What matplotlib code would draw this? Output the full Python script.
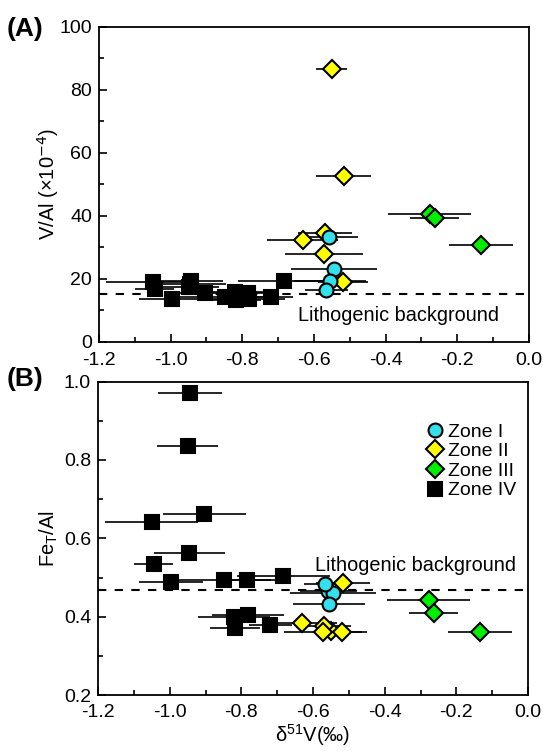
import matplotlib.pyplot as plt
from matplotlib.ticker import MultipleLocator

plt.rcParams['font.family'] = ['Liberation Sans', 'DejaVu Sans']
plt.rcParams['axes.unicode_minus'] = False

# Zone I (cyan circles)
z1_d51v = [-0.557, -0.543, -0.555, -0.566]
z1_err = [0.08, 0.12, 0.10, 0.06]
z1_val = [33.3, 23.0, 19.3, 16.3]
z1_fe = [0.465, 0.461, 0.432, 0.483]

# Zone II (yellow diamonds)
z2_d51v = [-0.550, -0.517, -0.569, -0.632, -0.572, -0.518]
z2_err = [0.043, 0.076, 0.076, 0.10, 0.11, 0.07]
z2_val = [86.5, 52.7, 34.6, 32.3, 27.7, 18.8]
z2_fe = [0.365, 0.487, 0.376, 0.383, 0.360, 0.361]

# Zone III (green diamonds)
z3_d51v = [-0.277, -0.263, -0.133]
z3_err = [0.116, 0.068, 0.089]
z3_val = [40.4, 39.4, 30.6]
z3_fe = [0.444, 0.410, 0.360]

# Zone IV (black squares)
z4_d51v = [-1.050, -1.045, -0.997, -0.943, -0.950, -0.945, -0.903,
           -0.848, -0.820, -0.818, -0.785, -0.782, -0.719, -0.683]
z4_err = [0.13, 0.055, 0.09, 0.09, 0.084, 0.10, 0.115,
          0.13, 0.10, 0.07, 0.08, 0.10, 0.06, 0.13]
z4_val = [19.0, 16.6, 13.5, 19.4, 17.5, 18.2, 15.4,
          14.3, 15.9, 13.2, 15.4, 13.5, 14.3, 19.3]
z4_fe = [0.641, 0.535, 0.490, 0.971, 0.836, 0.562, 0.661,
         0.494, 0.400, 0.372, 0.494, 0.405, 0.380, 0.505]

bg_val = 15.2
bg_fe = 0.468

zones = [
    ('Zone I', z1_d51v, z1_err, z1_val, z1_fe, 'o', '#33E0EC', 10),
    ('Zone II', z2_d51v, z2_err, z2_val, z2_fe, 'D', '#FFFF00', 9),
    ('Zone III', z3_d51v, z3_err, z3_val, z3_fe, 'D', '#00EE00', 9),
    ('Zone IV', z4_d51v, z4_err, z4_val, z4_fe, 's', 'black', 10),
]

fig = plt.figure(figsize=(5.43, 7.51), dpi=100)
axA = fig.add_axes([0.1823, 0.545, 0.7919, 0.4194])
axB = fig.add_axes([0.1805, 0.0743, 0.7919, 0.4176])

for ax, idx in ((axA, 3), (axB, 4)):
    # error bars first, markers on top
    for z in reversed(zones):
        ax.errorbar(z[1], z[idx], xerr=z[2], fmt='none', ecolor='black',
                    elinewidth=1.2, capsize=0, zorder=2)
    for z in reversed(zones):
        ax.plot(z[1], z[idx], linestyle='none', marker=z[5], ms=z[7],
                mfc=z[6], mec='black', mew=1.5, label=z[0], zorder=3)
    ax.set_xlim(-1.2, 0.0)
    ax.xaxis.set_major_locator(MultipleLocator(0.2))
    ax.xaxis.set_minor_locator(MultipleLocator(0.1))
    ax.xaxis.set_major_formatter(plt.FormatStrFormatter('%.1f'))
    ax.tick_params(which='both', direction='in', top=False, right=False,
                   labelsize=14, width=1.2, pad=5)
    ax.tick_params(axis='x', which='major', pad=6)
    ax.tick_params(which='major', length=6)
    ax.tick_params(which='minor', length=3.5)
    for s in ax.spines.values():
        s.set_linewidth(1.3)

axA.tick_params(axis='x', which='major', pad=7.5)

axA.set_ylim(0, 100)
axA.yaxis.set_major_locator(MultipleLocator(20))
axA.yaxis.set_minor_locator(MultipleLocator(10))
axA.axhline(bg_val, color='black', ls=(0, (4, 4)), lw=1.5, zorder=1)
axA.text(-0.645, 8.2, 'Lithogenic background', fontsize=14.3, va='center')
axA.set_ylabel('V/Al (×10$^{-4}$)', fontsize=14.5)
axA.yaxis.set_label_coords(-0.088, 0.5)

axB.set_ylim(0.2, 1.0)
axB.yaxis.set_major_locator(MultipleLocator(0.2))
axB.yaxis.set_minor_locator(MultipleLocator(0.1))
axB.yaxis.set_major_formatter(plt.FormatStrFormatter('%.1f'))
axB.axhline(bg_fe, color='black', ls=(0, (4, 4)), lw=1.5, zorder=1)
axB.text(-0.595, 0.532, 'Lithogenic background', fontsize=14.3, va='center')
axB.set_ylabel('Fe$_\\mathregular{T}$/Al', fontsize=14.5)
axB.yaxis.set_label_coords(-0.088, 0.5)
axB.set_xlabel('δ$^{\\mathregular{51}}$V(‰)', fontsize=14.5, labelpad=1)

handles, labels = axB.get_legend_handles_labels()
order = [labels.index(n) for n in ('Zone I', 'Zone II', 'Zone III', 'Zone IV')]
axB.legend([handles[i] for i in order], [labels[i] for i in order],
           loc='upper right', frameon=False, fontsize=14, handletextpad=0.1,
           handlelength=1.1, labelspacing=0.1, borderaxespad=0.2,
           bbox_to_anchor=(1.0, 0.905))

fig.text(0.012, 0.962, '(A)', fontsize=19, fontweight='bold', va='center')
fig.text(0.012, 0.496, '(B)', fontsize=19, fontweight='bold', va='center')

fig.savefig('out.png', dpi=100)
